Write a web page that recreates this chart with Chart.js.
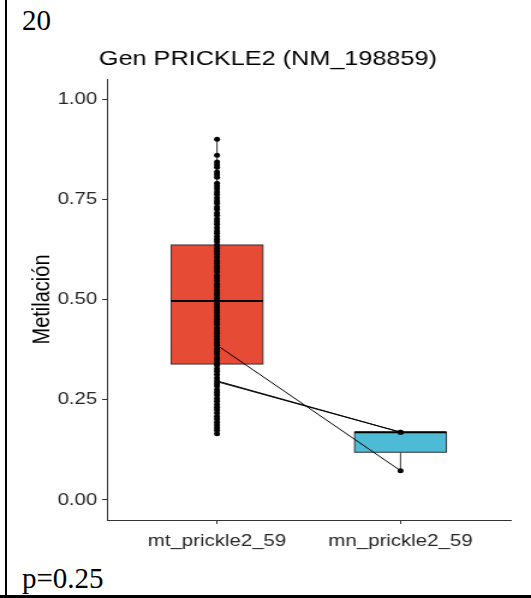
<!DOCTYPE html>
<html>
<head>
<meta charset="utf-8">
<script src="https://cdn.jsdelivr.net/npm/chart.js@4.4.1/dist/chart.umd.min.js"></script>
<style>
  html, body { margin: 0; padding: 0; background: #fff; }
  body { width: 531px; height: 598px; position: relative; overflow: hidden; font-family: "Liberation Serif", serif; }
  #frameLeft { position: absolute; left: 5px; top: 0; width: 2px; height: 598px; background: #000; }
  #frameBottom { position: absolute; left: 0; top: 595px; width: 531px; height: 3px; background: #000; }
  .cellText { position: absolute; left: 22px; font-size: 29px; line-height: 1; color: #000; white-space: nowrap; }
  #plotWrap { position: absolute; left: 0; top: 0; width: 442px; height: 598px; transform: scaleX(1.2014); transform-origin: 0 0; }
</style>
</head>
<body>
<div id="frameLeft"></div>
<div id="frameBottom"></div>
<div class="cellText" style="top:5.5px">20</div>
<div class="cellText" style="top:563.5px">p=0.25</div>
<div id="plotWrap"><canvas id="chart" width="442" height="598"></canvas></div>

<script>
var groups = ['mt_prickle2_59', 'mn_prickle2_59'];

// methylation values per sample
var mtValues = [
  0.900, 0.860, 0.843, 0.836, 0.830, 0.818, 0.812, 0.805, 0.790, 0.783, 0.776,
  0.768, 0.762, 0.753, 0.746, 0.740, 0.731, 0.725, 0.716, 0.710, 0.701,
  0.694, 0.688, 0.679, 0.671, 0.665, 0.657, 0.650, 0.644, 0.636, 0.628,
  0.621, 0.614, 0.606, 0.597, 0.591, 0.583, 0.577, 0.569, 0.560, 0.554,
  0.547, 0.538, 0.532, 0.524, 0.517, 0.511, 0.503, 0.496, 0.489, 0.481,
  0.474, 0.467, 0.459, 0.451, 0.444, 0.438, 0.429, 0.422, 0.416, 0.408,
  0.400, 0.393, 0.386, 0.377, 0.371, 0.364, 0.355, 0.349, 0.342, 0.336,
  0.327, 0.321, 0.313, 0.304, 0.297, 0.290, 0.284, 0.275, 0.268, 0.262,
  0.253, 0.246, 0.238, 0.231, 0.225, 0.217, 0.208, 0.202, 0.194, 0.187,
  0.180, 0.174, 0.165
];
var mnValues = [0.169, 0.169, 0.073];

// paired samples: mt value -> mn value
var pairFrom = [0.386, 0.297, 0.295];
var pairTo = [0.073, 0.169, 0.169];

// box summaries per group
var boxLow = [0.165, 0.073];
var boxQ1 = [0.339, 0.119];
var boxMedian = [0.496, 0.169];
var boxQ3 = [0.636, 0.169];
var boxHigh = [0.900, 0.169];

var yTicks = [0, 0.25, 0.5, 0.75, 1];
var boxColors = ['#E64B35', '#4DBBD5'];

var boxPlugin = {
  id: 'boxes',
  beforeDatasetsDraw: function(chart) {
    var ctx = chart.ctx;
    var xs = chart.scales.x;
    var ys = chart.scales.y;
    ctx.save();
    for (var i = 0; i < groups.length; i++) {
      var cx = xs.getPixelForValue(i + 1);
      var half = xs.getPixelForValue(i + 1.25) - cx;
      var top = ys.getPixelForValue(boxQ3[i]);
      var bot = ys.getPixelForValue(boxQ1[i]);

      ctx.strokeStyle = '#333333';
      ctx.lineWidth = 1;
      ctx.beginPath();
      ctx.moveTo(cx, ys.getPixelForValue(boxHigh[i]));
      ctx.lineTo(cx, top);
      ctx.moveTo(cx, bot);
      ctx.lineTo(cx, ys.getPixelForValue(boxLow[i]));
      ctx.stroke();

      ctx.fillStyle = boxColors[i];
      ctx.fillRect(cx - half, top, half * 2, bot - top);
      ctx.strokeRect(cx - half, top, half * 2, bot - top);

      var med = ys.getPixelForValue(boxMedian[i]);
      ctx.strokeStyle = '#000000';
      ctx.lineWidth = 2;
      ctx.beginPath();
      ctx.moveTo(cx - half, med);
      ctx.lineTo(cx + half, med);
      ctx.stroke();
    }
    ctx.restore();
  }
};

var datasets = [];
for (var p = 0; p < pairFrom.length; p++) {
  datasets.push({
    data: [{ x: 1, y: pairFrom[p] }, { x: 2, y: pairTo[p] }],
    showLine: true,
    borderColor: '#000000',
    borderWidth: 1,
    pointRadius: 0
  });
}
datasets.push({
  data: mtValues.map(function(v) { return { x: 1, y: v }; }),
  pointRadius: 2.5,
  pointBackgroundColor: '#000000',
  pointBorderWidth: 0
});
datasets.push({
  data: mnValues.map(function(v) { return { x: 2, y: v }; }),
  pointRadius: 2.5,
  pointBackgroundColor: '#000000',
  pointBorderWidth: 0
});

var axisFont = { family: 'Liberation Sans', size: 17 };

new Chart(document.getElementById('chart'), {
  type: 'scatter',
  data: { datasets: datasets },
  plugins: [boxPlugin],
  options: {
    responsive: false,
    animation: false,
    events: [],
    layout: { padding: { left: 21, right: 17, top: 0, bottom: 0 } },
    plugins: {
      legend: { display: false },
      tooltip: { enabled: false },
      title: {
        display: true,
        text: 'Gen PRICKLE2 (NM_198859)',
        color: '#000000',
        font: { family: 'Liberation Sans', size: 21, weight: 'normal' },
        padding: { top: 47, bottom: 6.8 }
      }
    },
    scales: {
      x: {
        type: 'linear',
        min: 0.4,
        max: 2.6,
        afterBuildTicks: function(scale) {
          scale.ticks = [{ value: 1 }, { value: 2 }];
        },
        afterFit: function(scale) { scale.height = 78; },
        ticks: {
          callback: function(v) { return groups[v - 1]; },
          color: '#262626',
          font: axisFont,
          padding: 7,
          maxRotation: 0,
          autoSkip: false
        },
        grid: { drawOnChartArea: false, drawTicks: true, tickLength: 4, color: '#333333' },
        border: { color: '#333333', width: 1 }
      },
      y: {
        min: -0.05,
        max: 1.05,
        afterBuildTicks: function(scale) {
          scale.ticks = yTicks.map(function(v) { return { value: v }; });
        },
        afterFit: function(scale) { scale.width = 68; },
        ticks: {
          callback: function(v) { return v.toFixed(2); },
          color: '#262626',
          font: axisFont,
          padding: 4
        },
        grid: { drawOnChartArea: false, drawTicks: true, tickLength: 4, color: '#333333' },
        border: { color: '#333333', width: 1 },
        title: {
          display: true,
          text: 'Metilación',
          color: '#000000',
          font: { family: 'Liberation Sans', size: 20 },
          padding: { top: 2, bottom: 0 }
        }
      }
    }
  }
});
</script>
</body>
</html>
